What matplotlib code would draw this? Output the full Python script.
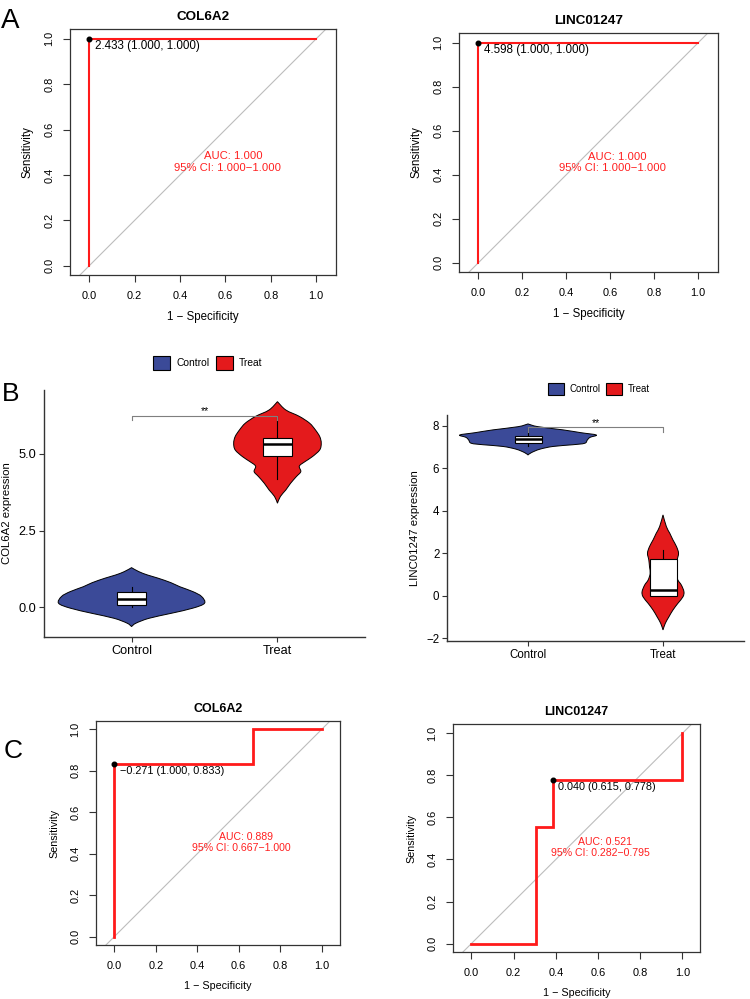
import matplotlib
matplotlib.use('Agg')
import matplotlib.pyplot as plt
from matplotlib.patches import Patch, Rectangle, PathPatch
from matplotlib.path import Path

plt.rcParams['font.family'] = ['Liberation Sans', 'DejaVu Sans']

# ---------------- data ----------------
# ROC curves (x = 1 - specificity, y = sensitivity)
rocA1_fpr = [0.0, 0.0, 1.0]
rocA1_tpr = [0.0, 1.0, 1.0]
rocA2_fpr = [0.0, 0.0, 1.0]
rocA2_tpr = [0.0, 1.0, 1.0]
rocC1_fpr = [0.0, 0.0, 0.667, 0.667, 1.0]
rocC1_tpr = [0.0, 0.833, 0.833, 1.0, 1.0]
rocC2_fpr = [0.0, 0.308, 0.308, 0.385, 0.385, 1.0, 1.0]
rocC2_tpr = [0.0, 0.0, 0.556, 0.556, 0.778, 0.778, 1.0]

best_pts = [(0.0, 1.0), (0.0, 1.0), (0.0, 0.833), (0.385, 0.778)]
best_labels = ["2.433 (1.000, 1.000)", "4.598 (1.000, 1.000)",
               "\u22120.271 (1.000, 0.833)", "0.040 (0.615, 0.778)"]
auc_vals = ["1.000", "1.000", "0.889", "0.521"]
ci_vals = ["1.000\u22121.000", "1.000\u22121.000", "0.667\u22121.000", "0.282\u22120.795"]
roc_titles = ["COL6A2", "LINC01247", "COL6A2", "LINC01247"]

groups = ["Control", "Treat"]

# violin density outlines (value, half-width)
col_ctrl_y = [-0.63, -0.52, -0.36, -0.2, -0.03, 0.13, 0.35, 0.51, 0.67, 0.8, 0.95, 1.05, 1.16, 1.29]
col_ctrl_w = [0.0, 0.03, 0.12, 0.27, 0.42, 0.5, 0.48, 0.42, 0.33, 0.27, 0.18, 0.11, 0.05, 0.0]
col_treat_y = [3.39, 3.61, 3.82, 4.04, 4.26, 4.42, 4.6, 4.75, 4.91, 5.13, 5.35, 5.56, 5.78, 6.0, 6.22, 6.43, 6.70]
col_treat_w = [0.0, 0.02, 0.057, 0.09, 0.13, 0.16, 0.15, 0.19, 0.24, 0.29, 0.30, 0.29, 0.26, 0.22, 0.15, 0.057, 0.0]
linc_ctrl_y = [6.62, 6.73, 6.89, 7.02, 7.10, 7.17, 7.33, 7.45, 7.56, 7.67, 7.80, 7.95, 8.08]
linc_ctrl_w = [0.0, 0.025, 0.087, 0.185, 0.33, 0.42, 0.44, 0.46, 0.506, 0.39, 0.26, 0.074, 0.0]
linc_treat_y = [-1.61, -1.3, -0.99, -0.67, -0.36, -0.05, 0.19, 0.5, 0.74, 1.05, 1.36, 1.68, 2.0, 2.31, 2.62, 2.94, 3.25, 3.80]
linc_treat_w = [0.0, 0.017, 0.044, 0.074, 0.11, 0.148, 0.155, 0.136, 0.11, 0.095, 0.1, 0.105, 0.115, 0.1, 0.074, 0.05, 0.025, 0.0]

# box stats: [lower whisker, q1, median, q3, upper whisker]
col_ctrl_box = [0.0, 0.08, 0.28, 0.49, 0.67]
col_treat_box = [4.18, 4.93, 5.33, 5.53, 6.24]
linc_ctrl_box = [7.04, 7.2, 7.36, 7.52, 7.87]
linc_treat_box = [0.0, 0.0, 0.29, 1.72, 2.15]

# significance
col_sig = ("**", 6.24, 6.10)
linc_sig = ("**", 7.92, 7.70)

BLUE = "#3B4A98"
RED = "#E41A1C"

# ---------------- figure ----------------
W, H = 750, 999
fig = plt.figure(figsize=(7.5, 9.99), dpi=100)


def px_axes(x0, y0, x1, y1):
    return fig.add_axes([x0 / W, 1 - y1 / H, (x1 - x0) / W, (y1 - y0) / H])


def roc_panel(box, xlim, ylim, i, fpr, tpr, lw, s):
    ax = px_axes(*box)
    ax.plot([-1, 2], [-1, 2], color='#BDBDBD', lw=0.8, zorder=1)
    ax.plot(fpr, tpr, color='#FF1A1A', lw=lw, solid_joinstyle='miter', zorder=2)
    px, py = best_pts[i]
    ax.plot([px], [py], 'o', color='black', ms=3.3, zorder=3)
    ax.annotate(best_labels[i], xy=(px, py), xytext=(3.8, -5.2), textcoords='offset points',
                ha='left', va='center', fontsize=8.4 * s)
    ax.text(0.633, 0.482, "AUC: " + auc_vals[i], color='#FF2020', ha='center', va='center',
            fontsize=8.1 * s)
    ax.text(0.61, 0.43, "95% CI: " + ci_vals[i], color='#FF2020', ha='center', va='center',
            fontsize=8.1 * s)
    ax.set_xlim(xlim)
    ax.set_ylim(ylim)
    ticks = [0.0, 0.2, 0.4, 0.6, 0.8, 1.0]
    labs = ["%.1f" % t for t in ticks]
    ax.set_xticks(ticks)
    ax.set_xticklabels(labs)
    ax.set_yticks(ticks)
    ax.set_yticklabels(labs, rotation=90, va='center')
    ax.tick_params(direction='out', length=4.8, width=0.8, pad=6.5, labelsize=7.9,
                   color='#333333')
    for sp in ax.spines.values():
        sp.set_color('#333333')
        sp.set_linewidth(0.9)
    ax.set_title(roc_titles[i], fontweight='bold', fontsize=9.7 * s, pad=6.5)
    ax.set_xlabel("1 \u2212 Specificity", fontsize=8.3 * s, labelpad=7.5)
    ax.set_ylabel("Sensitivity", fontsize=8.3 * s, labelpad=7.5)
    return ax


roc_panel((70, 29, 336, 275), (-0.085, 1.087), (-0.041, 1.043), 0, rocA1_fpr, rocA1_tpr, 1.5, 1.0)
roc_panel((459, 33, 718, 272), (-0.088, 1.09), (-0.042, 1.044), 1, rocA2_fpr, rocA2_tpr, 1.5, 1.0)
roc_panel((96, 721, 340, 945), (-0.088, 1.088), (-0.04, 1.04), 2, rocC1_fpr, rocC1_tpr, 2.0, 0.93)
roc_panel((453, 724, 700, 952), (-0.087, 1.083), (-0.04, 1.044), 3, rocC2_fpr, rocC2_tpr, 2.0, 0.93)


def smooth_side(pts):
    """Catmull-Rom spline through pts as cubic bezier segments (open curve)."""
    n = len(pts)
    segs = []
    for k in range(n - 1):
        p0 = pts[k - 1] if k > 0 else pts[k]
        p1 = pts[k]
        p2 = pts[k + 1]
        p3 = pts[k + 2] if k + 2 < n else pts[k + 1]
        c1 = (p1[0] + (p2[0] - p0[0]) / 6.0, p1[1] + (p2[1] - p0[1]) / 6.0)
        c2 = (p2[0] - (p3[0] - p1[0]) / 6.0, p2[1] - (p3[1] - p1[1]) / 6.0)
        segs.append((c1, c2, p2))
    return segs


def violin(ax, pos, ys, ws, color):
    left = [(pos - w, y) for y, w in zip(ys, ws)]
    right = [(pos + w, y) for y, w in zip(ys[::-1], ws[::-1])]
    verts = [left[0]]
    codes = [Path.MOVETO]
    for side in (left, right):
        for c1, c2, p in smooth_side(side):
            verts += [c1, c2, p]
            codes += [Path.CURVE4] * 3
    verts.append(left[0])
    codes.append(Path.CLOSEPOLY)
    ax.add_patch(PathPatch(Path(verts, codes), facecolor=color, edgecolor='black',
                           lw=0.7, zorder=2))


def boxplot(ax, pos, st):
    lo, q1, med, q3, hi = st
    ax.plot([pos, pos], [q3, hi], color='black', lw=0.8, zorder=3)
    ax.plot([pos, pos], [lo, q1], color='black', lw=0.8, zorder=3)
    ax.add_patch(Rectangle((pos - 0.1, q1), 0.2, q3 - q1, facecolor='white',
                           edgecolor='black', lw=0.8, zorder=4))
    ax.plot([pos - 0.1, pos + 0.1], [med, med], color='black', lw=1.8, zorder=5,
            solid_capstyle='butt')


def violin_panel(box, ylim, yticks, yticklabels, ylabel, vdata, boxes, sig, fs, legend_xy, lfs, patch):
    ax = px_axes(*box)
    for k, (ys, ws, c) in enumerate(vdata):
        violin(ax, k + 1, ys, ws, c)
        boxplot(ax, k + 1, boxes[k])
    txt, ytop, ytip = sig
    ax.plot([1, 1, 2, 2], [ytip, ytop, ytop, ytip], color='#7F7F7F', lw=0.8, zorder=6)
    ax.text(1.5, ytop + 0.006 * (ylim[1] - ylim[0]), txt, ha='center', va='baseline',
            fontsize=7.5, zorder=6)
    ax.set_xlim(0.4, 2.6)
    ax.set_ylim(ylim)
    ax.set_xticks([1, 2])
    ax.set_xticklabels(groups)
    ax.set_yticks(yticks)
    ax.set_yticklabels(yticklabels)
    ax.tick_params(direction='out', length=3.5, width=0.8, pad=2.0, labelsize=fs,
                   color='#333333')
    for sp in ['top', 'right']:
        ax.spines[sp].set_visible(False)
    for sp in ['left', 'bottom']:
        ax.spines[sp].set_color('#333333')
        ax.spines[sp].set_linewidth(1.0)
    ax.set_ylabel(ylabel, fontsize=8.2, labelpad=4.5)
    handles = [Patch(facecolor=BLUE, edgecolor='black', lw=0.8, label='Control'),
               Patch(facecolor=RED, edgecolor='black', lw=0.8, label='Treat')]
    hsz = patch / (lfs / 72 * 100)
    fig.legend(handles=handles, loc='center', bbox_to_anchor=(legend_xy[0] / W, 1 - legend_xy[1] / H),
               ncol=2, frameon=False, fontsize=lfs, handlelength=hsz, handleheight=hsz,
               handletextpad=0.6, columnspacing=0.6, borderpad=0.0)
    return ax


violin_panel((44, 390, 365, 637), (-0.97, 7.08), [0, 2.5, 5.0], ["0.0", "2.5", "5.0"],
             "COL6A2 expression",
             [(col_ctrl_y, col_ctrl_w, BLUE), (col_treat_y, col_treat_w, RED)],
             [col_ctrl_box, col_treat_box], col_sig, 9.2, (208, 363), 7.4, 17)
violin_panel((447, 415, 744, 641), (-2.13, 8.5), [-2, 0, 2, 4, 6, 8],
             ["\u22122", "0", "2", "4", "6", "8"], "LINC01247 expression",
             [(linc_ctrl_y, linc_ctrl_w, BLUE), (linc_treat_y, linc_treat_w, RED)],
             [linc_ctrl_box, linc_treat_box], linc_sig, 8.3, (599, 389), 6.9, 15.5)

# panel letters
fig.text(1 / W, 1 - 28 / H, "A", fontsize=20, va='baseline', ha='left')
fig.text(2 / W, 1 - 401 / H, "B", fontsize=19, va='baseline', ha='left')
fig.text(4 / W, 1 - 758 / H, "C", fontsize=19, va='baseline', ha='left')

fig.savefig("out.png", dpi=100)
